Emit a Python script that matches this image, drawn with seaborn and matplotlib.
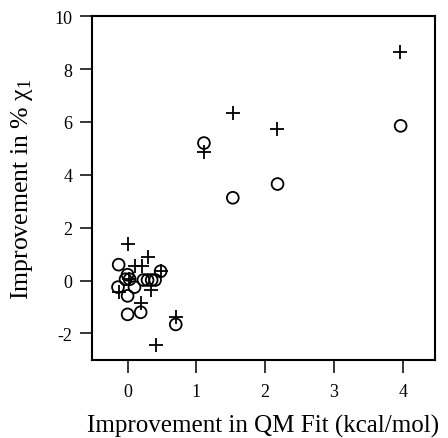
import matplotlib
matplotlib.use("Agg")
import matplotlib.pyplot as plt
import seaborn as sns
import pandas as pd

# Circles series
circle_x = [-0.13, -0.03, 0.03, 0.00, 0.23, 0.29, 0.35, 0.40, 0.48, -0.14, 0.00, 0.10, 0.00, 0.19, 0.70, 1.11, 1.53, 2.18, 3.97]
circle_y = [0.60, 0.05, 0.05, 0.22, 0.02, 0.02, 0.02, 0.02, 0.35, -0.25, -0.58, -0.25, -1.28, -1.20, -1.66, 5.20, 3.13, 3.65, 5.85]

# Plus series
plus_x = [0.00, 0.11, 0.21, 0.30, 0.02, 0.48, 0.34, -0.12, 0.19, 0.70, 0.41, 1.11, 1.53, 2.17, 3.96]
plus_y = [1.40, 0.55, 0.55, 0.88, 0.05, 0.35, -0.35, -0.42, -0.85, -1.38, -2.45, 4.88, 6.33, 5.72, 8.65]

x_ticks = [0, 1, 2, 3, 4]
y_ticks = [-2, 0, 2, 4, 6, 8, 10]

sns.set_theme(style="white")
plt.rcParams['font.family'] = ['Liberation Serif', 'DejaVu Serif']
plt.rcParams['mathtext.fontset'] = 'custom'
plt.rcParams['mathtext.rm'] = 'Liberation Serif'
plt.rcParams['mathtext.it'] = 'Liberation Serif:italic'

fig = plt.figure(figsize=(4.48, 4.39), dpi=100)
ax = fig.add_axes([0.205, 0.178, 0.766, 0.783])

df_c = pd.DataFrame({"x": circle_x, "y": circle_y})
df_p = pd.DataFrame({"x": plus_x, "y": plus_y})

sns.scatterplot(data=df_c, x="x", y="y", ax=ax, marker="o", s=72,
                facecolors="none", edgecolor="black", linewidth=1.3, legend=False)
sns.scatterplot(data=df_p, x="x", y="y", ax=ax, marker="+", s=90,
                color="black", linewidth=1.3, legend=False)

ax.set_xlim(-0.52, 4.47)
ax.set_ylim(-3, 10)
ax.set_xticks(x_ticks)
ax.set_yticks(y_ticks)
ax.set_xticklabels([str(t) for t in x_ticks])
ax.set_yticklabels([str(t) for t in y_ticks])

for sp in ax.spines.values():
    sp.set_visible(True)
    sp.set_color("black")
    sp.set_linewidth(1.5)

ax.tick_params(axis="both", which="major", direction="out", length=9, width=1.1,
               colors="black", labelsize=13, pad=5, bottom=True, left=True, top=False, right=False)
ax.tick_params(axis="x", pad=8)

ax.set_xlabel("Improvement in QM Fit (kcal/mol)", fontsize=18, color="black", labelpad=10)
ax.set_ylabel("Improvement in % χ$_1$", fontsize=18.5, color="black", labelpad=14)
ax.grid(False)

fig.savefig("out.png", dpi=100, facecolor="white")
